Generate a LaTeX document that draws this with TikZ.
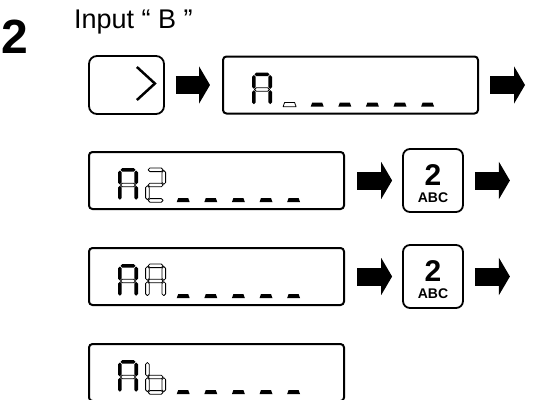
\documentclass[tikz,border=0pt]{standalone}
\usepackage{fontspec}
\setmainfont{Liberation Sans}
\usetikzlibrary{arrows.meta,calc}

% hexagonal segments (half thickness 1.8)
\newcommand\HSeg[4]{\path[#1] (#2,#4) -- (#2+1.8,#4-1.8) -- (#3-1.8,#4-1.8) -- (#3,#4) -- (#3-1.8,#4+1.8) -- (#2+1.8,#4+1.8) -- cycle;}
\newcommand\VSeg[4]{\path[#1] (#2,#3) -- (#2+1.8,#3+1.8) -- (#2+1.8,#4-1.8) -- (#2,#4) -- (#2-1.8,#4-1.8) -- (#2-1.8,#3+1.8) -- cycle;}
\newcommand\SgA[1]{\HSeg{#1}{2.5}{17.5}{1.8}}
\newcommand\SgB[1]{\VSeg{#1}{18.2}{2.5}{16.3}}
\newcommand\SgC[1]{\VSeg{#1}{18.2}{17.7}{31.7}}
\newcommand\SgD[1]{\HSeg{#1}{2.5}{17.5}{32.4}}
\newcommand\SgE[1]{\VSeg{#1}{1.8}{17.7}{31.7}}
\newcommand\SgF[1]{\VSeg{#1}{1.8}{2.5}{16.3}}
\newcommand\SgG[1]{\HSeg{#1}{2.5}{17.5}{17}}
% characters: #1 lcd node, #2 cell index, #3 style, #4 style of middle
\newcommand\CellScope[2]{\begin{scope}[shift={($(#1.north west)+(30+27.6*#2,17)$)}]}
\newcommand\LcdA[4]{\CellScope{#1}{#2}\SgA{#3}\SgB{#3}\SgC{#3}\SgE{#3}\SgF{#3}\SgG{#4}\end{scope}}
\newcommand\LcdTwo[3]{\CellScope{#1}{#2}\SgA{#3}\SgB{#3}\SgG{#3}\SgE{#3}\SgD{#3}\end{scope}}
\newcommand\LcdLowB[3]{\CellScope{#1}{#2}\SgF{#3}\SgE{#3}\SgD{#3}\SgC{#3}\SgG{#3}\end{scope}}
\newcommand\LcdDash[3]{\CellScope{#1}{#2}\path[#3] (3.5,34.2) -- (16.5,34.2) -- (15,30) -- (5,30) -- cycle;\end{scope}}

\tikzset{
  segfill/.style={fill=black},
  segline/.style={draw=black,line width=0.8pt,fill=white,line join=round},
  lcdbox/.style={draw,line width=2pt,rounded corners=3.5pt,minimum width=255pt,minimum height=57pt,inner sep=0pt},
  keybox/.style={draw,line width=1.8pt,rounded corners=8pt,inner sep=0pt},
  blockarrow/.style={line width=18pt,-{Triangle[length=11pt,width=37pt]}},
}

\begin{document}
\begin{tikzpicture}[x=1pt,y=-1pt]
\useasboundingbox (0,0) rectangle (551,399);
\clip (0,0) rectangle (551,399);

\node[anchor=base west,inner sep=0pt,font=\fontsize{48}{48}\selectfont\bfseries] (stepnum) at (1,53) {2};
\node[anchor=base west,inner sep=0pt,font=\fontsize{27}{27}\selectfont] (title) at (74,28) {Input “ B ”};

% row 1
\node[keybox,minimum width=75pt,minimum height=58pt] (key1) at (126.5,85) {};
\draw[line width=2.5pt] ($(key1.east)+(-28,-18)$) -- ($(key1.east)+(-10,-1.5)$) -- ($(key1.east)+(-28,15)$);
\node[lcdbox] (lcd1) at (350.5,85) {};
\draw[blockarrow] ([xshift=11pt]key1.east) -- ([xshift=-12pt]lcd1.west);
\coordinate (end1) at ([xshift=46pt]lcd1.east);
\draw[blockarrow] ([xshift=11pt]lcd1.east) -- (end1);
\LcdA{lcd1}{0}{segfill}{segline}
\LcdDash{lcd1}{1}{segline}
\foreach \i in {2,...,6} {\LcdDash{lcd1}{\i}{segfill}}

% row 2
\node[lcdbox] (lcd2) at (216.5,180.5) {};
\node[keybox,rounded corners=7pt,minimum width=60pt,minimum height=63pt] (key2) at (433,180.5) {};
\node[anchor=base,inner sep=0pt,font=\fontsize{30}{30}\selectfont\bfseries] (k2num) at ($(key2.center)+(0,5)$) {2};
\node[anchor=base,inner sep=0pt,font=\fontsize{14}{14}\selectfont\bfseries] (k2abc) at ($(key2.center)+(0,22)$) {ABC};
\draw[blockarrow] ([xshift=12pt]lcd2.east) -- ([xshift=-10pt]key2.west);
\coordinate (end2) at ([xshift=46pt]key2.east);
\draw[blockarrow] ([xshift=11pt]key2.east) -- (end2);
\LcdA{lcd2}{0}{segfill}{segline}
\LcdTwo{lcd2}{1}{segline}
\foreach \i in {2,...,6} {\LcdDash{lcd2}{\i}{segfill}}

% row 3
\node[lcdbox] (lcd3) at (216.5,276.5) {};
\node[keybox,rounded corners=7pt,minimum width=60pt,minimum height=63pt] (key3) at (433,276.5) {};
\node[anchor=base,inner sep=0pt,font=\fontsize{30}{30}\selectfont\bfseries] (k3num) at ($(key3.center)+(0,5)$) {2};
\node[anchor=base,inner sep=0pt,font=\fontsize{14}{14}\selectfont\bfseries] (k3abc) at ($(key3.center)+(0,22)$) {ABC};
\draw[blockarrow] ([xshift=12pt]lcd3.east) -- ([xshift=-10pt]key3.west);
\coordinate (end3) at ([xshift=46pt]key3.east);
\draw[blockarrow] ([xshift=11pt]key3.east) -- (end3);
\LcdA{lcd3}{0}{segfill}{segline}
\LcdA{lcd3}{1}{segline}{segline}
\foreach \i in {2,...,6} {\LcdDash{lcd3}{\i}{segfill}}

% row 4
\node[lcdbox] (lcd4) at (216.5,372.5) {};
\LcdA{lcd4}{0}{segfill}{segline}
\LcdLowB{lcd4}{1}{segline}
\foreach \i in {2,...,6} {\LcdDash{lcd4}{\i}{segfill}}
\end{tikzpicture}
\end{document}
